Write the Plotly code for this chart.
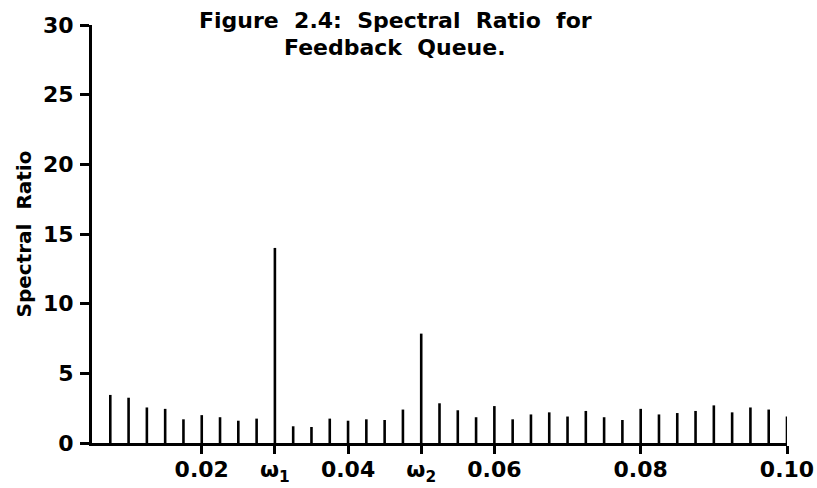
import plotly.graph_objects as go

# Frequencies at which the spectral ratio was evaluated
freqs = [0.0075, 0.0100, 0.0125, 0.0150, 0.0175, 0.0200, 0.0225, 0.0250, 0.0275, 0.0300,
         0.0325, 0.0350, 0.0375, 0.0400, 0.0425, 0.0450, 0.0475, 0.0500, 0.0525, 0.0550,
         0.0575, 0.0600, 0.0625, 0.0650, 0.0675, 0.0700, 0.0725, 0.0750, 0.0775, 0.0800,
         0.0825, 0.0850, 0.0875, 0.0900, 0.0925, 0.0950, 0.0975, 0.1000]

# Spectral ratio at each frequency
ratios = [3.45, 3.25, 2.55, 2.45, 1.70, 2.00, 1.85, 1.60, 1.75, 14.0,
          1.20, 1.15, 1.75, 1.60, 1.70, 1.65, 2.40, 7.85, 2.85, 2.35,
          1.85, 2.65, 1.70, 2.05, 2.20, 1.90, 2.30, 1.85, 1.65, 2.45,
          2.05, 2.15, 2.30, 2.70, 2.20, 2.55, 2.40, 1.90]

x_tickvals = [0.02, 0.03, 0.04, 0.05, 0.06, 0.08, 0.10]
x_ticktext = ["0.02", "ω<sub>1</sub>", "0.04", "ω<sub>2</sub>", "0.06", "0.08", "0.10"]
y_tickvals = [0, 5, 10, 15, 20, 25, 30]

FONT = "'DejaVu Sans', sans-serif"
SP = " \u00a0"  # wide word gap

fig = go.Figure()
# Each spectral line is a vertical stroke from zero up to its ratio
fig.add_trace(go.Scatter(
    x=freqs, y=ratios, mode="markers",
    marker=dict(size=1, color="rgba(0,0,0,0)"),
    error_y=dict(type="data", symmetric=False,
                 array=[0] * len(ratios), arrayminus=ratios,
                 thickness=2.6, width=0, color="black"),
    showlegend=False, hoverinfo="x+y",
))

fig.update_layout(
    width=817, height=488,
    margin=dict(l=92, r=30, t=25, b=45, autoexpand=False),
    paper_bgcolor="white", plot_bgcolor="white",
    font=dict(family=FONT, size=22, color="black", weight="bold"),
    annotations=[
        dict(text=SP.join(["Figure", "2.4:", "Spectral", "Ratio", "for"]),
             xref="paper", yref="paper",
             x=(395 - 92) / 695, y=(443 - 20) / 418,
             xanchor="center", yanchor="middle", showarrow=False,
             font=dict(family=FONT, size=22, color="black", weight="bold")),
        dict(text=SP.join(["Feedback", "Queue."]),
             xref="paper", yref="paper",
             x=(395 - 92) / 695, y=(443 - 47) / 418,
             xanchor="center", yanchor="middle", showarrow=False,
             font=dict(family=FONT, size=22, color="black", weight="bold")),
    ],
)

fig.update_xaxes(
    range=[0.005, 0.1], showgrid=False, zeroline=False, automargin=False,
    showline=True, linecolor="black", linewidth=3,
    ticks="outside", ticklen=8, tickwidth=2.5, tickcolor="black",
    tickvals=x_tickvals, ticktext=x_ticktext, ticklabelstandoff=-3,
    tickfont=dict(family=FONT, size=22, color="black", weight="bold"),
)
fig.update_yaxes(
    range=[0, 30], showgrid=False, zeroline=False, automargin=False,
    showline=True, linecolor="black", linewidth=3,
    ticks="outside", ticklen=9, tickwidth=2.5, tickcolor="black",
    tickvals=y_tickvals, ticklabelstandoff=2,
    tickfont=dict(family=FONT, size=22, color="black", weight="bold"),
    title=dict(text=SP.join(["Spectral", "Ratio"]), standoff=6,
               font=dict(family=FONT, size=20, color="black", weight="bold")),
)

fig.write_html("out.html")
